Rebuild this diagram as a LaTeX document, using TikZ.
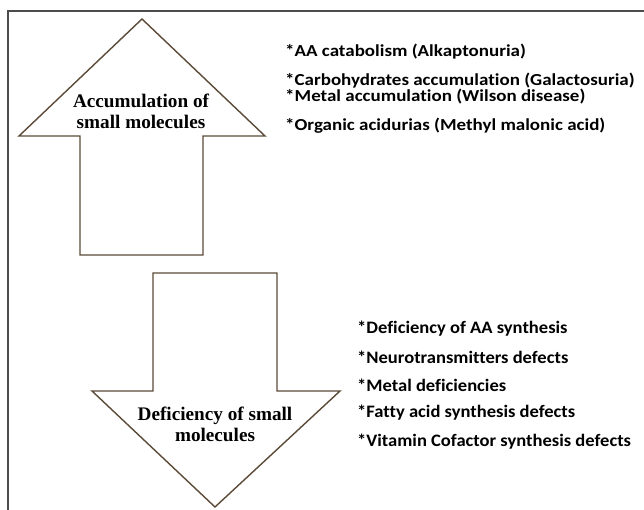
\documentclass[tikz,border=0pt]{standalone}
\usepackage{fontspec}
\setmainfont{Liberation Serif}
\newfontfamily\listfontA[Ligatures=CommonOff,FakeStretch=1.13]{Carlito}
\newfontfamily\listfontB[Ligatures=CommonOff,FakeStretch=1.06]{Carlito}
\begin{document}
\begin{tikzpicture}[x=1pt,y=-1pt,
  frameline/.style={draw=black!70,line width=1.6pt},
  arrowshape/.style={draw=black!60!brown!70!gray,line width=1.4pt,fill=white,line join=miter},
  arrowlabel/.style={font=\fontsize{19.2}{21}\selectfont\bfseries,align=center,inner sep=0pt},
  itemtextA/.style={font=\listfontA\fontsize{16.8}{19}\selectfont\bfseries,anchor=west,inner sep=0pt},
  itemtextB/.style={font=\listfontB\fontsize{17.5}{20}\selectfont\bfseries,anchor=west,inner sep=0pt}]
\useasboundingbox (0,0) rectangle (644,510);
\fill[white] (0,0) rectangle (644,510);
% open frame: top and left edges
\draw[frameline] (644,11) -- (8,11) -- (8,510);
% upward arrow
\draw[arrowshape] (142,19) -- (265,136) -- (203,136) -- (203,255) -- (80,255) -- (80,136) -- (19,136) -- cycle;
\node[arrowlabel] (up) at (141,111) {Accumulation of\\small molecules};
% downward arrow
\draw[arrowshape] (153,273) -- (277,273) -- (277,391) -- (340,391) -- (215,507) -- (92,391) -- (153,391) -- cycle;
\node[arrowlabel] (down) at (215,424) {Deficiency of small\\molecules};
% accumulation disorders
\node[itemtextA] (a1) at (285,52) {*AA catabolism (Alkaptonuria)};
\node[itemtextA] (a2) at (285,81) {*Carbohydrates accumulation (Galactosuria)};
\node[itemtextA] (a3) at (285,97) {*Metal accumulation (Wilson disease)};
\node[itemtextA] (a4) at (285,126) {*Organic acidurias (Methyl malonic acid)};
% deficiency disorders
\node[itemtextB] (d1) at (357,329) {*Deficiency of AA synthesis};
\node[itemtextB] (d2) at (357,357) {*Neurotransmitters defects};
\node[itemtextB] (d3) at (357,385) {*Metal deficiencies};
\node[itemtextB] (d4) at (357,413) {*Fatty acid synthesis defects};
\node[itemtextB] (d5) at (357,442) {*Vitamin Cofactor synthesis defects};
\end{tikzpicture}
\end{document}
